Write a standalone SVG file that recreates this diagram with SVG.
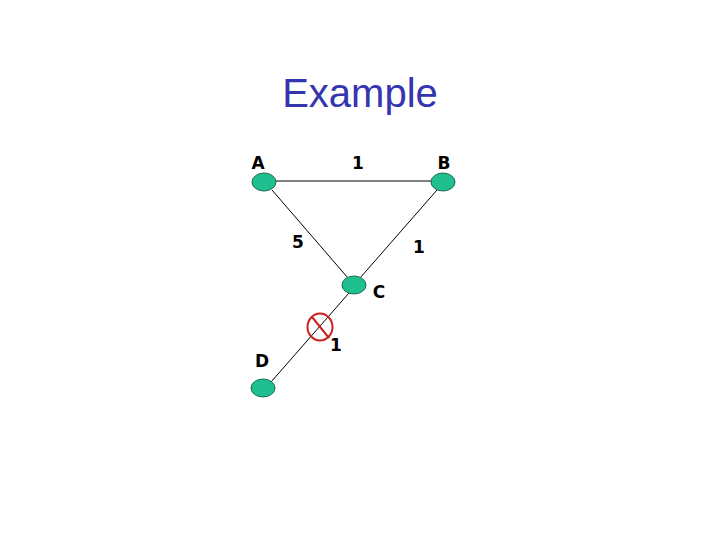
<svg xmlns="http://www.w3.org/2000/svg" width="720" height="540" viewBox="0 0 720 540">
<style>
.node{fill:#1fbf8f;stroke:#1a6a50;stroke-width:1}
.lbl{font-family:"DejaVu Sans","Liberation Sans",sans-serif;font-weight:bold;font-size:17px;fill:#000;text-anchor:middle}
.edge{stroke:#000;stroke-width:1;fill:none}
</style>
<rect width="720" height="540" fill="#fff"/>
<text x="360" y="107" font-family="'Liberation Sans',sans-serif" font-size="40" fill="#3535b0" text-anchor="middle">Example</text>
<g id="connectors">
<line class="edge" x1="276" y1="181" x2="431" y2="181"/>
<line class="edge" x1="272" y1="190" x2="348" y2="278"/>
<line class="edge" x1="437" y1="190" x2="360" y2="278"/>
<line class="edge" x1="349" y1="293" x2="271" y2="382"/>
<text class="lbl" x="358" y="169">1</text>
<text class="lbl" x="298" y="248">5</text>
<text class="lbl" x="419" y="253">1</text>
<text class="lbl" x="336" y="351">1</text>
<g id="cut">
<ellipse cx="320" cy="327" rx="12.5" ry="13.5" fill="none" stroke="#cc2020" stroke-width="2"/>
<line x1="312" y1="317" x2="329" y2="338" stroke="#cc2020" stroke-width="2"/>
</g>
</g>
<g id="A"><ellipse class="node" cx="264" cy="182" rx="12" ry="9"/><text class="lbl" x="258" y="169">A</text></g>
<g id="B"><ellipse class="node" cx="443" cy="182" rx="12" ry="9"/><text class="lbl" x="444" y="169">B</text></g>
<g id="C"><ellipse class="node" cx="354" cy="285" rx="12" ry="9"/><text class="lbl" x="379" y="298">C</text></g>
<g id="D"><ellipse class="node" cx="263" cy="388" rx="12" ry="9"/><text class="lbl" x="262" y="367">D</text></g>
</svg>
